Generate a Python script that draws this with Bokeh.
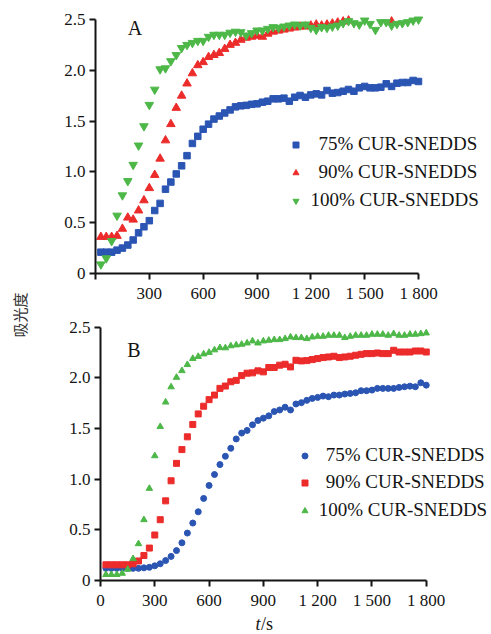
import math
from bokeh.plotting import figure
from bokeh.models import Range1d, FixedTicker, Label, Legend, LegendItem, ColumnDataSource
from bokeh.layouts import row, column
from bokeh.embed import file_html
from bokeh.resources import INLINE

NAN = float("nan")

time_s = [30, 60, 90, 120, 150, 180, 210, 240, 270, 300,
          330, 360, 390, 420, 450, 480, 510, 540, 570, 600,
          630, 660, 690, 720, 750, 780, 810, 840, 870, 900,
          930, 960, 990, 1020, 1050, 1080, 1110, 1140, 1170, 1200,
          1230, 1260, 1290, 1320, 1350, 1380, 1410, 1440, 1470, 1500,
          1530, 1560, 1590, 1620, 1650, 1680, 1710, 1740, 1770, 1800]

series_labels = ["75% CUR-SNEDDS", "90% CUR-SNEDDS", "100% CUR-SNEDDS"]
panel_letters = ["A", "B"]
x_ticks = [0, 300, 600, 900, 1200, 1500, 1800]
x_tick_labels_a = ["", "300", "600", "900", "1 200", "1 500", "1 800"]
x_tick_labels_b = ["0", "300", "600", "900", "1 200", "1 500", "1 800"]
y_ticks = [0, 0.5, 1.0, 1.5, 2.0, 2.5]
y_tick_labels = ["0", "0.5", "1.0", "1.5", "2.0", "2.5"]
y_title = "吸光度"
x_title_italic = "t"
x_title_rest = "/s"

# Panel A
a_75 = [0.21, 0.21, 0.21, 0.23, 0.25, 0.28, 0.33, 0.40, 0.46, 0.52,
        0.62, 0.69, 0.83, 0.90, 0.98, 1.06, 1.16, 1.28, 1.35, 1.42,
        1.47, 1.52, 1.55, 1.58, 1.61, 1.64, 1.65, 1.655, 1.665, 1.67,
        1.686, 1.696, 1.719, 1.719, 1.726, 1.696, 1.735, 1.752, 1.735, 1.758,
        1.768, 1.758, 1.801, 1.775, 1.781, 1.794, 1.811, 1.794, 1.827, 1.841,
        1.827, 1.827, 1.834, 1.867, 1.841, 1.873, 1.880, 1.880, 1.900, 1.890]
a_90 = [0.36, 0.36, 0.36, 0.37, 0.44, 0.55, 0.53, 0.62, 0.72, 0.84,
        0.97, 1.13, 1.31, 1.47, 1.63, 1.75, 1.87, 1.97, 2.05, 2.08,
        2.13, 2.15, 2.17, 2.21, 2.25, 2.27, 2.30, 2.32, 2.33, 2.34,
        2.33, 2.36, 2.38, 2.39, 2.40, 2.41, 2.42, 2.43, 2.43, 2.44,
        2.45, 2.44, 2.45, 2.46, 2.47, 2.48, 2.49, NAN, NAN, NAN,
        NAN, NAN, NAN, NAN, 2.48, NAN, NAN, NAN, NAN, NAN]
a_100 = [0.09, 0.15, 0.32, 0.57, 0.77, 0.91, 1.07, 1.26, 1.45, 1.66,
         1.81, 2.01, 2.02, 2.09, 2.15, 2.22, 2.25, 2.27, 2.29, 2.29,
         2.33, 2.35, 2.35, 2.35, 2.37, 2.38, 2.375, 2.343, 2.366, 2.392,
         2.392, 2.408, 2.425, 2.418, 2.431, 2.441, 2.451, 2.441, 2.451, 2.418,
         2.398, 2.425, 2.418, 2.431, 2.441, 2.464, 2.484, 2.464, 2.451, 2.490,
         2.457, 2.398, 2.474, 2.474, 2.441, 2.457, 2.464, 2.474, 2.490, 2.500]

# Panel B
b_75 = [0.12, 0.12, 0.12, 0.12, 0.12, 0.12, 0.12, 0.125, 0.13, 0.145,
        0.165, 0.197, 0.238, 0.295, 0.372, 0.468, 0.567, 0.678, 0.81, 0.938,
        1.046, 1.144, 1.226, 1.305, 1.397, 1.455, 1.481, 1.536, 1.579, 1.602,
        1.625, 1.667, 1.683, 1.71, 1.683, 1.742, 1.755, 1.778, 1.797, 1.807,
        1.820, 1.814, 1.830, 1.830, 1.840, 1.846, 1.853, 1.873, 1.873, 1.879,
        1.896, 1.896, 1.896, 1.896, 1.905, 1.912, 1.918, 1.912, 1.951, 1.928]
b_90 = [0.155, 0.155, 0.155, 0.155, 0.155, 0.165, 0.193, 0.247, 0.32, 0.449,
        0.60, 0.786, 0.984, 1.156, 1.292, 1.418, 1.54, 1.644, 1.72, 1.785,
        1.83, 1.896, 1.919, 1.961, 1.975, 2.022, 2.046, 2.049, 2.069, 2.059,
        2.102, 2.102, 2.125, 2.134, 2.108, 2.173, 2.167, 2.17, 2.18, 2.19,
        2.20, 2.206, 2.213, 2.20, 2.206, 2.213, 2.223, 2.232, 2.239, 2.239,
        2.245, 2.239, 2.239, 2.272, 2.255, 2.255, 2.255, 2.265, 2.265, 2.255]
b_100 = [0.058, 0.058, 0.058, 0.07, 0.11, 0.215, 0.362, 0.599, 0.908, 1.23,
         1.518, 1.76, 1.91, 2.004, 2.07, 2.13, 2.19, 2.21, 2.235, 2.25,
         2.275, 2.297, 2.295, 2.315, 2.324, 2.33, 2.343, 2.363, 2.343, 2.363,
         2.370, 2.376, 2.376, 2.386, 2.402, 2.396, 2.396, 2.386, 2.402, 2.409,
         2.409, 2.419, 2.419, 2.419, 2.396, 2.409, 2.419, 2.419, 2.419, 2.429,
         2.429, 2.429, 2.419, 2.435, 2.419, 2.419, 2.429, 2.429, 2.435, 2.442]

BLUE = "#2B55B3"
RED = "#EC2B2B"
GREEN = "#4DB848"
SERIF = "Liberation Serif"
INK = "#141414"


def style_panel(p, x_labels):
    p.grid.visible = False
    p.outline_line_color = None
    for ax in (p.xaxis[0], p.yaxis[0]):
        ax.axis_line_width = 2
        ax.axis_line_color = INK
        ax.major_tick_line_width = 2
        ax.major_tick_line_color = INK
        ax.major_tick_out = 6
        ax.major_tick_in = 0
        ax.minor_tick_line_color = None
        ax.major_label_text_font = SERIF
        ax.major_label_text_font_size = "17px"
        ax.major_label_text_color = INK
        ax.major_label_standoff = 4
    p.xaxis.ticker = FixedTicker(ticks=x_ticks)
    p.xaxis.major_label_overrides = {t: l for t, l in zip(x_ticks, x_labels)}
    p.xaxis.bounds = (0, 1800)
    p.yaxis.ticker = FixedTicker(ticks=y_ticks)
    p.yaxis.major_label_overrides = {t: l for t, l in zip(y_ticks, y_tick_labels)}
    p.yaxis.bounds = (0, 2.5)


def add_legend(p, renderer, label, vx, vy, standoff):
    lg = Legend(items=[LegendItem(label=label, renderers=[renderer])],
                location=(vx, vy), padding=0, margin=0, spacing=0,
                glyph_width=15, glyph_height=15, label_standoff=standoff,
                label_height=15,
                label_text_font=SERIF, label_text_font_size="19px",
                label_text_color=INK, border_line_color=None,
                background_fill_alpha=0)
    p.add_layout(lg)


def bare_figure(w, h):
    f = figure(width=w, height=h, output_backend="svg", toolbar_location=None,
               x_axis_location=None, y_axis_location=None, min_border=0,
               x_range=Range1d(0, 1), y_range=Range1d(0, 1), frame_align=False)
    f.grid.visible = False
    f.outline_line_color = None
    return f


# ---- Panel A ----
pa = figure(width=450, height=306, output_backend="svg", toolbar_location=None,
            x_range=Range1d(0, 2190), y_range=Range1d(0, 2.559), frame_align=False,
            min_border_left=55, min_border_right=2, min_border_top=13, min_border_bottom=33)
style_panel(pa, x_tick_labels_a)
src_a = ColumnDataSource(dict(t=time_s, s75=a_75, s90=a_90, s100=a_100))
ra1 = pa.scatter("t", "s75", source=src_a, marker="square", size=6.5,
                 fill_color=BLUE, line_color=BLUE)
ra2 = pa.scatter("t", "s90", source=src_a, marker="triangle", size=8.5,
                 fill_color=RED, line_color=RED)
ra3 = pa.scatter("t", "s100", source=src_a, marker="inverted_triangle", size=8.5,
                 fill_color=GREEN, line_color=GREEN)
add_legend(pa, ra1, series_labels[0], 192.5, 118, 16)
add_legend(pa, ra2, series_labels[1], 192.5, 90, 16)
add_legend(pa, ra3, series_labels[2], 192.5, 62, 8)
pa.add_layout(Label(x=39.5, y=246, x_units="screen", y_units="screen", text=panel_letters[0],
                    text_font=SERIF, text_font_size="20px", text_color=INK,
                    text_align="center", text_baseline="middle"))

# ---- Panel B ----
pb = figure(width=450, height=306, output_backend="svg", toolbar_location=None,
            x_range=Range1d(0, 2144), y_range=Range1d(0, 2.556), frame_align=False,
            min_border_left=60, min_border_right=2, min_border_top=15, min_border_bottom=30)
style_panel(pb, x_tick_labels_b)
src_b = ColumnDataSource(dict(t=time_s, s75=b_75, s90=b_90, s100=b_100))
rb1 = pb.scatter("t", "s75", source=src_b, marker="circle", size=6,
                 fill_color=BLUE, line_color=BLUE)
rb2 = pb.scatter("t", "s90", source=src_b, marker="square", size=6,
                 fill_color=RED, line_color=RED)
rb3 = pb.scatter("t", "s100", source=src_b, marker="triangle", size=6.5,
                 fill_color=GREEN, line_color=GREEN)
add_legend(pb, rb1, series_labels[0], 196.8, 114, 14)
add_legend(pb, rb2, series_labels[1], 196.8, 87, 14)
add_legend(pb, rb3, series_labels[2], 196.8, 59, 7)
pb.add_layout(Label(x=33.5, y=230.3, x_units="screen", y_units="screen", text=panel_letters[1],
                    text_font=SERIF, text_font_size="20px", text_color=INK,
                    text_align="center", text_baseline="middle"))

# ---- x title (t/s) ----
xt = bare_figure(450, 21)
xt.add_layout(Label(x=215, y=10, x_units="screen", y_units="screen", text=x_title_italic,
                    text_font=SERIF, text_font_size="18px", text_font_style="italic",
                    text_color=INK, text_align="left", text_baseline="middle"))
xt.add_layout(Label(x=220.5, y=10, x_units="screen", y_units="screen", text=x_title_rest,
                    text_font=SERIF, text_font_size="18px",
                    text_color=INK, text_align="left", text_baseline="middle"))

# ---- Shared y title ----
yf = bare_figure(40, 633)
yf.add_layout(Label(x=19, y=318.5, x_units="screen", y_units="screen", text=y_title,
                    angle=math.pi / 2, text_font="Noto Sans CJK SC", text_font_size="15px",
                    text_color="#333333", text_align="center", text_baseline="middle"))

layout = row(yf, column(pa, pb, xt))
open("out.html", "w").write(file_html(layout, INLINE))
